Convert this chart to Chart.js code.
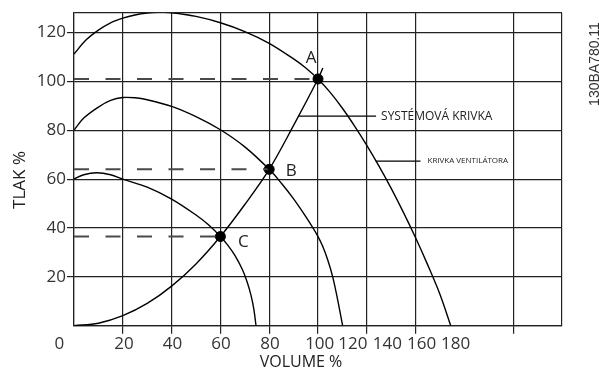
<!DOCTYPE html>
<html>
<head>
<meta charset="utf-8">
<script src="https://cdn.jsdelivr.net/npm/chart.js@4/dist/chart.umd.min.js"></script>
<style>
  html, body { margin: 0; padding: 0; background: #fff; }
</style>
</head>
<body>
<canvas id="chart" width="599" height="369"></canvas>
<script>
// Fan curves at three speeds: volume % vs pressure %
const fan100Volume   = [0, 5, 10, 15, 20, 25, 30, 35, 40, 50, 60, 70, 80, 90, 95, 100, 105, 110, 115, 120, 125, 130, 135, 140, 145, 150, 154.4];
const fan100Pressure = [111.2, 117, 121, 124, 125.9, 127.2, 128, 128.3, 128.1, 126.6, 124, 120.4, 115.6, 109.2, 105.5, 101, 95.5, 89, 81.7, 73.8, 65.3, 56.2, 46.4, 36, 24.8, 12.8, 0];

const fan80Volume   = [0, 4, 10, 15, 20, 25, 30, 40, 50, 60, 70, 80, 85, 90, 95, 100, 102, 104, 106, 108, 110.1];
const fan80Pressure = [80, 85, 89.5, 92.2, 93.4, 93.3, 92.5, 89.8, 85.6, 80.2, 73.2, 64, 58.3, 51.9, 44.6, 36.5, 32.3, 26.9, 20.1, 10.9, 0];

const fan60Volume   = [0, 4, 9.3, 15, 20, 30, 40, 50, 55, 60, 63, 66, 69, 71, 72.5, 73.7, 74.6];
const fan60Pressure = [60, 61.8, 62.6, 61.8, 60, 56.7, 51.8, 45.3, 41.4, 36.5, 33, 28.7, 23, 17.8, 12.6, 6.8, 0];

// System curve (pressure rises with the square of volume)
const systemVolume   = [0, 10, 20, 30, 40, 50, 60, 70, 80, 90, 100, 102];
const systemPressure = [0, 1, 4.1, 9.1, 16.2, 25.3, 36.5, 49.6, 64, 82, 101, 105.5];

// Operating points where the system curve meets each fan curve
const opLabels   = ['A', 'B', 'C'];
const opVolume   = [100, 80, 60];
const opPressure = [101, 64, 36.5];

// Leader lines for the curve names
const leaderNames    = ['SYSTÉMOVÁ KRIVKA', 'KRIVKA VENTILÁTORA'];
const leaderStart    = [92.2, 123.6];
const leaderEnd      = [123.8, 142];
const leaderPressure = [85.8, 67.4];

// Axis ticks
const gridVolume   = [0, 20, 40, 60, 80, 100, 120, 140, 160, 180, 200];
const xTickLabels  = ['0', '20', '40', '60', '80', '100', '120', '140', '160', '180'];
const yTickValues  = [20, 40, 60, 80, 100, 120];
const pressureMax  = 128;

// where the x labels sit along the volume scale (they bunch up after 100)
const xLabelAt = [-6, 20.5, 40.4, 60.2, 80.3, 100.7, 114.3, 128.4, 142.5, 156.4];

const ink = '#222';
const gridColor = '#222';
const clear = 'rgba(0,0,0,0)';
const FONT = '"Open Sans", "Noto Sans", sans-serif';

function pts(xs, ys) {
  return xs.map((v, i) => ({ x: v, y: ys[i] }));
}

function curve(xs, ys) {
  return {
    data: pts(xs, ys),
    showLine: true,
    borderColor: '#000',
    borderWidth: 1.4,
    pointRadius: 0,
    tension: 0.35
  };
}

const datasets = [
  curve(fan100Volume, fan100Pressure),
  curve(fan80Volume, fan80Pressure),
  curve(fan60Volume, fan60Pressure),
  curve(systemVolume, systemPressure)
];

// dashed guides from the pressure axis to each point
opVolume.forEach((v, i) => {
  datasets.push({
    data: [{ x: 0, y: opPressure[i] }, { x: v, y: opPressure[i] }],
    showLine: true,
    borderColor: '#4a4a4a',
    borderWidth: 2,
    borderDash: [15, 16.5],
    pointRadius: 0
  });
});

leaderNames.forEach((n, i) => {
  datasets.push({
    data: [{ x: leaderStart[i], y: leaderPressure[i] }, { x: leaderEnd[i], y: leaderPressure[i] }],
    showLine: true,
    borderColor: '#000',
    borderWidth: 1.3,
    pointRadius: 0
  });
});

datasets.push({
  data: pts(opVolume, opPressure),
  showLine: false,
  pointRadius: 5,
  pointBackgroundColor: '#000',
  pointBorderColor: '#000'
});

// letter offsets (px) from each operating point
const letterShift = [[-7, -21], [22, 2], [23, 6]];

const annotate = {
  id: 'annotate',
  afterDraw(chart) {
    const { ctx, chartArea, scales } = chart;
    const x = scales.x, y = scales.y;
    ctx.save();
    ctx.fillStyle = ink;

    ctx.font = '17px ' + FONT;
    ctx.textAlign = 'center';
    ctx.textBaseline = 'middle';
    opLabels.forEach((lab, i) => {
      ctx.fillText(lab,
        x.getPixelForValue(opVolume[i]) + letterShift[i][0],
        y.getPixelForValue(opPressure[i]) + letterShift[i][1]);
    });

    ctx.textAlign = 'left';
    ctx.font = '12px ' + FONT;
    ctx.fillText(leaderNames[0], x.getPixelForValue(leaderEnd[0]) + 5, y.getPixelForValue(leaderPressure[0]));
    ctx.font = '8px ' + FONT;
    ctx.fillText(leaderNames[1], x.getPixelForValue(leaderEnd[1]) + 7, y.getPixelForValue(leaderPressure[1]));

    // axis titles
    ctx.textAlign = 'center';
    ctx.font = '16px ' + FONT;
    ctx.fillText('VOLUME %', chartArea.left + 227, chartArea.bottom + 37);

    ctx.save();
    ctx.translate(20, chartArea.top + 167);
    ctx.rotate(-Math.PI / 2);
    ctx.font = '17px ' + FONT;
    ctx.fillText('TLAK %', 0, 0);
    ctx.restore();

    ctx.save();
    ctx.translate(595, 64);
    ctx.rotate(-Math.PI / 2);
    ctx.fillStyle = '#333';
    ctx.font = '14px "Liberation Sans", Arial, sans-serif';
    ctx.fillText('130BA780.11', 0, 0);
    ctx.restore();

    ctx.restore();
  }
};

new Chart(document.getElementById('chart'), {
  type: 'scatter',
  data: { datasets },
  plugins: [annotate],
  options: {
    responsive: false,
    devicePixelRatio: 1,
    animation: false,
    layout: { padding: { top: 13, right: 37, bottom: 0, left: 0 } },
    plugins: { legend: { display: false }, tooltip: { enabled: false } },
    scales: {
      x: {
        type: 'linear',
        min: 0,
        max: 200,
        weight: 0,
        afterBuildTicks: s => { s.ticks = gridVolume.map(v => ({ value: v })); },
        afterFit: s => { s.height = 8; s.paddingLeft = 0; s.paddingRight = 0; },
        ticks: { display: false },
        border: { color: gridColor, width: 1.2 },
        grid: {
          lineWidth: 1.2,
          tickLength: 8,
          color: c => (c.tick && c.tick.value === 160) ? clear : gridColor,
          tickColor: c => (c.tick && [0, 160, 200].includes(c.tick.value)) ? clear : gridColor
        }
      },
      xl: {
        type: 'linear',
        position: 'bottom',
        min: 0,
        max: 200,
        weight: 1,
        afterBuildTicks: s => { s.ticks = xLabelAt.map(v => ({ value: v })); },
        afterFit: s => { s.height = 369 - 325.7 - 8; s.paddingLeft = 0; s.paddingRight = 0; },
        border: { display: false },
        grid: { display: false, drawTicks: false },
        ticks: {
          autoSkip: false,
          maxRotation: 0,
          padding: 0,
          color: '#333',
          font: { family: FONT, size: 17 },
          callback: (v, i) => xTickLabels[i]
        }
      },
      y: {
        type: 'linear',
        min: 0,
        max: pressureMax,
        afterBuildTicks: s => { s.ticks = [0, ...yTickValues, pressureMax].map(v => ({ value: v })); },
        afterFit: s => { s.width = 74; s.paddingTop = 0; s.paddingBottom = 0; },
        border: { color: gridColor, width: 1.2 },
        grid: {
          lineWidth: 1.2,
          tickLength: 7,
          color: gridColor,
          tickColor: c => (c.tick && yTickValues.includes(c.tick.value)) ? gridColor : clear
        },
        ticks: {
          padding: 1,
          color: '#333',
          font: { family: FONT, size: 17 },
          callback: v => yTickValues.includes(v) ? String(v) : ''
        }
      }
    }
  }
});
</script>
</body>
</html>
